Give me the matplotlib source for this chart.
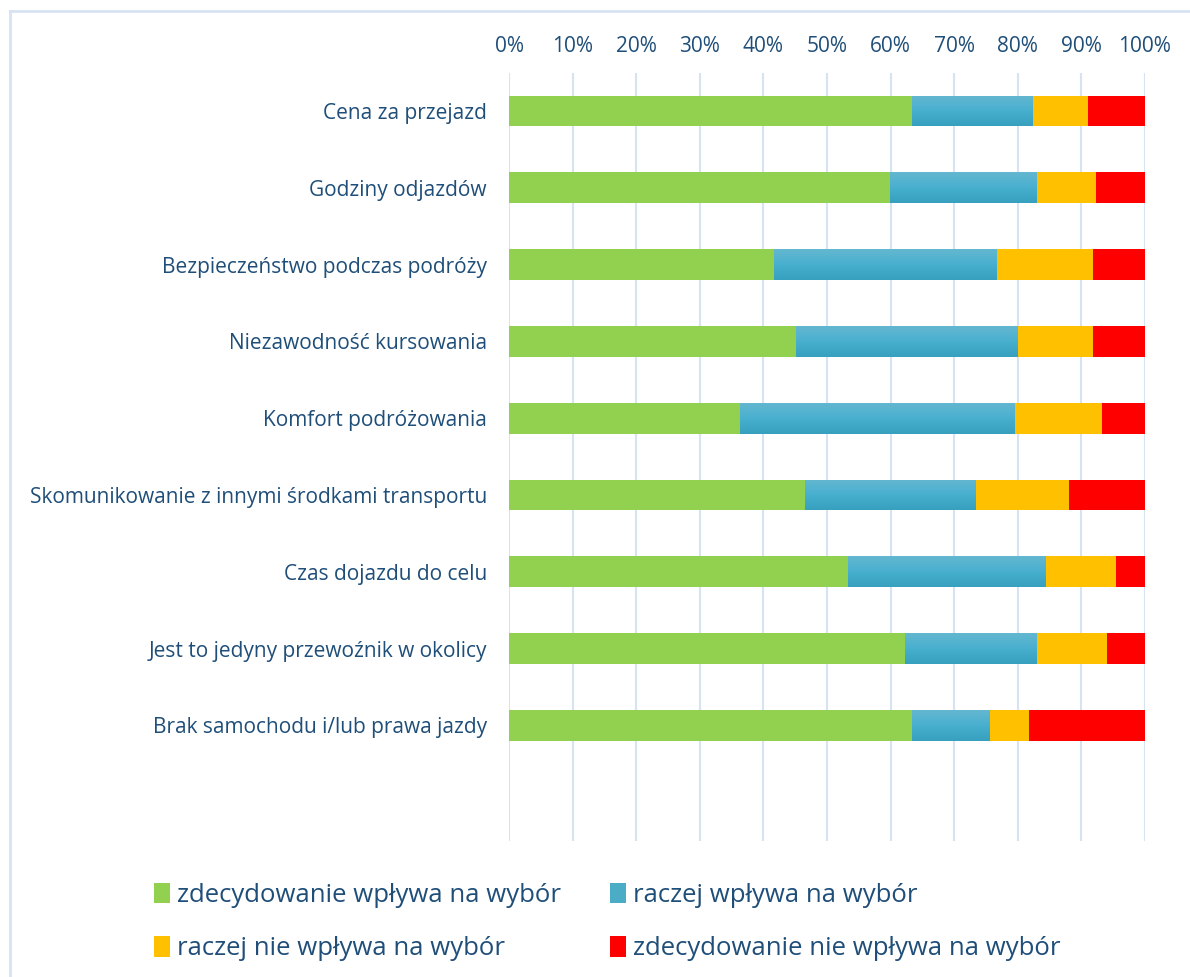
import numpy as np
import matplotlib.pyplot as plt
from matplotlib.patches import Patch
from matplotlib.lines import Line2D
from matplotlib.colors import LinearSegmentedColormap

plt.rcParams['font.family'] = ['Open Sans', 'DejaVu Sans']

categories = [
    'Cena za przejazd',
    'Godziny odjazdów',
    'Bezpieczeństwo podczas podróży',
    'Niezawodność kursowania',
    'Komfort podróżowania',
    'Skomunikowanie z innymi środkami transportu',
    'Czas dojazdu do celu',
    'Jest to jedyny przewoźnik w okolicy',
    'Brak samochodu i/lub prawa jazdy',
]
series_names = [
    'zdecydowanie wpływa na wybór',
    'raczej wpływa na wybór',
    'raczej nie wpływa na wybór',
    'zdecydowanie nie wpływa na wybór',
]
strong_yes = [63.4, 59.9, 41.7, 45.1, 36.3, 46.5, 53.3, 62.3, 63.4]
rather_yes = [19.0, 23.1, 35.0, 34.8, 43.1, 26.8, 31.0, 20.7, 12.2]
rather_no = [8.6, 9.3, 15.1, 11.9, 13.8, 14.8, 11.1, 11.0, 6.2]
strong_no = [9.0, 7.7, 8.2, 8.2, 6.8, 11.9, 4.6, 6.0, 18.2]

colors = ['#92D050', '#4BACC6', '#FFC000', '#FF0000']
text_color = '#1F4E79'
grid_color = '#D6E3F3'

fig = plt.figure(figsize=(11.9, 9.77), dpi=100)
ax = fig.add_axes([509 / 1190, 1 - 840.6 / 977, 636 / 1190, 768 / 977])

y = np.arange(len(categories))
h = 0.40
blue_cmap = LinearSegmentedColormap.from_list('blue_grad', ['#64B7D0', '#48B0CF', '#37A0BE'])
left = np.zeros(len(categories))
for vals, col in zip([strong_yes, rather_yes, rather_no, strong_no], colors):
    vals = np.array(vals)
    bars = ax.barh(y, vals, left=left, height=h, color=col, zorder=3)
    if col == '#4BACC6':
        # vertical gradient on the blue segments
        grad = np.linspace(0, 1, 64).reshape(-1, 1)
        for b in bars:
            x0, y0 = b.get_x(), b.get_y()
            im = ax.imshow(grad, cmap=blue_cmap, aspect='auto', zorder=3.5,
                           extent=[x0, x0 + b.get_width(), y0 + b.get_height(), y0])
            im.set_clip_path(b)
    left = left + vals

ax.set_xlim(0, 100)
ax.set_ylim(len(categories) + 0.5, -0.5)
ax.set_xticks(np.arange(0, 101, 10))
ax.set_xticklabels([f'{v}%' for v in range(0, 101, 10)])
ax.xaxis.tick_top()
ax.set_yticks(y)
ax.set_yticklabels(categories)
ax.tick_params(axis='both', length=0, labelsize=15, colors=text_color)
ax.tick_params(axis='x', pad=11)
ax.tick_params(axis='y', pad=16)
ax.grid(axis='x', color=grid_color, linewidth=1.5, zorder=0)
for s in ax.spines.values():
    s.set_visible(False)

# legend is filled column by column, so order the entries to read row-wise
order = [0, 2, 1, 3]
handles = [Patch(facecolor=colors[i], edgecolor='none') for i in order]
labels = [series_names[i] for i in order]
fig.legend(handles, labels, ncol=2, loc='center',
           bbox_to_anchor=(0.510, 1 - 922 / 977), frameon=False,
           fontsize=18.5, handlelength=0.65, handleheight=0.85,
           handletextpad=0.25, columnspacing=1.9, labelspacing=1.1,
           labelcolor=text_color)

# light frame along the top and left edge
fig.add_artist(Line2D([10 / 1190, 1], [1 - 11 / 977] * 2, color=grid_color, lw=2))
fig.add_artist(Line2D([10 / 1190] * 2, [0, 1 - 11 / 977], color=grid_color, lw=2))

fig.savefig('out.png', dpi=100, facecolor='white')
